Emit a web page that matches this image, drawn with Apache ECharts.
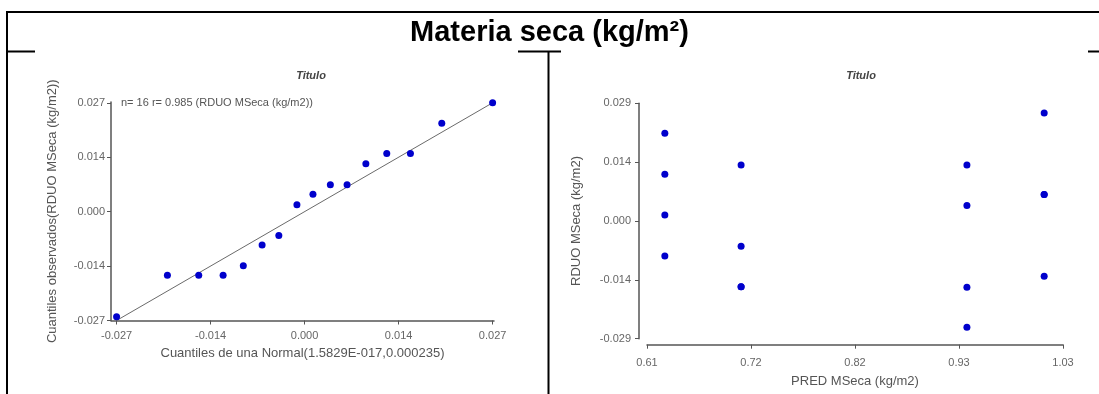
<!DOCTYPE html>
<html>
<head>
<meta charset="utf-8">
<script src="https://cdn.jsdelivr.net/npm/echarts@6/dist/echarts.min.js"></script>
<style>
  html, body { margin: 0; padding: 0; background: #fff; }
  #chart { width: 1099px; height: 394px; }
</style>
</head>
<body>
<div id="chart"></div>
<script>
// Q-Q plot of residuals: normal quantiles vs. observed residual quantiles
const qqTheoretical = [-0.0270, -0.0197, -0.0152, -0.0117, -0.0088, -0.0061, -0.0037, -0.0011,
                        0.0012, 0.0037, 0.0061, 0.0088, 0.0118, 0.0152, 0.0197, 0.0270];
const qqObserved = [-0.0261, -0.0158, -0.0158, -0.0158, -0.0134, -0.0083, -0.0059, 0.0017,
                     0.0043, 0.0067, 0.0067, 0.0119, 0.0144, 0.0144, 0.0219, 0.0270];
const qqRefLine = [[-0.027, -0.027], [0.027, 0.027]];
const qqCorrelation = '0.985';

// Residuals vs. predicted values
const predMSeca = [0.628, 0.628, 0.628, 0.628, 0.705, 0.705, 0.705, 0.705,
                   0.933, 0.933, 0.933, 0.933, 1.011, 1.011, 1.011, 1.011];
const rduoMSeca = [0.0216, 0.0115, 0.0015, -0.0086, 0.0138, -0.0062, -0.0162, -0.0162,
                   0.0138, 0.0038, -0.0163, -0.0262, 0.0266, 0.0065, 0.0065, -0.0136];

// Tick values and their printed labels
const qqTickValues = [-0.027, -0.0135, 0, 0.0135, 0.027];
const qqTickLabels = ['-0.027', '-0.014', '0.000', '0.014', '0.027'];
const resYTickValues = [-0.029, -0.0145, 0, 0.0145, 0.029];
const resYTickLabels = ['-0.029', '-0.014', '0.000', '0.014', '0.029'];
const predTickValues = [0.61, 0.715, 0.82, 0.925, 1.03];
const predTickLabels = ['0.61', '0.72', '0.82', '0.93', '1.03'];

const FONT = '"Liberation Sans", Arial, sans-serif';
const AXIS_COLOR = '#555';
const LABEL_COLOR = '#666';
const POINT_COLOR = '#0000cc';

function labelFor(values, labels) {
  return function (v) {
    const i = values.findIndex(t => Math.abs(t - v) < 1e-9);
    return i >= 0 ? labels[i] : '';
  };
}

function valueAxis(opts) {
  return Object.assign({
    type: 'value',
    scale: true,
    splitLine: { show: false },
    axisLine: { show: true, onZero: false, lineStyle: { color: AXIS_COLOR, width: 1.5 } },
    axisTick: { show: true, length: 4, lineStyle: { color: AXIS_COLOR, width: 1 },
                customValues: opts.ticks },
    axisLabel: { fontSize: 11, color: LABEL_COLOR, fontFamily: FONT, margin: opts.margin,
                 customValues: opts.ticks, formatter: labelFor(opts.ticks, opts.labels) },
    nameLocation: 'middle',
    nameTextStyle: { fontSize: 13, color: AXIS_COLOR, fontFamily: FONT }
  }, opts.extra);
}

const qqPairs = qqTheoretical.map((x, i) => [x, qqObserved[i]]);
const resPairs = predMSeca.map((x, i) => [x, rduoMSeca[i]]);

const chart = echarts.init(document.getElementById('chart'), null, { renderer: 'canvas' });

const frame = { stroke: '#000', lineWidth: 2 };
const pointStyle = { color: POINT_COLOR, opacity: 1 };

chart.setOption({
  animation: false,
  backgroundColor: '#fff',
  textStyle: { fontFamily: FONT },
  title: [
    { text: 'Materia seca (kg/m²)', left: 'center', top: 13,
      textStyle: { fontSize: 29, fontWeight: 'bold', color: '#000', fontFamily: FONT } },
    { text: 'Titulo', left: 306, top: 65, textAlign: 'center',
      textStyle: { fontSize: 11, fontWeight: 'bold', fontStyle: 'italic', color: '#444', fontFamily: FONT } },
    { text: 'Titulo', left: 856, top: 65, textAlign: 'center',
      textStyle: { fontSize: 11, fontWeight: 'bold', fontStyle: 'italic', color: '#444', fontFamily: FONT } }
  ],
  grid: [
    { left: 111, top: 102, width: 383, height: 218.5 },
    { left: 647, top: 103.3, width: 416, height: 235.4 }
  ],
  xAxis: [
    valueAxis({ ticks: qqTickValues, labels: qqTickLabels, margin: 10, extra: {
      gridIndex: 0, min: -0.0278, max: 0.0272,
      name: 'Cuantiles de una Normal(1.5829E-017,0.000235)', nameGap: 26 } }),
    valueAxis({ ticks: predTickValues, labels: predTickLabels, margin: 13, extra: {
      gridIndex: 1, min: 0.61, max: 1.03, offset: 6,
      name: 'PRED MSeca (kg/m2)', nameGap: 30 } })
  ],
  yAxis: [
    valueAxis({ ticks: qqTickValues, labels: qqTickLabels, margin: 6, extra: {
      gridIndex: 0, min: -0.027, max: 0.0272,
      name: 'Cuantiles observados(RDUO MSeca (kg/m2))', nameGap: 52 } }),
    valueAxis({ ticks: resYTickValues, labels: resYTickLabels, margin: 8, extra: {
      gridIndex: 1, min: -0.029, max: 0.029, offset: 8,
      name: 'RDUO MSeca (kg/m2)', nameGap: 56 } })
  ],
  series: [
    { type: 'line', xAxisIndex: 0, yAxisIndex: 0, data: qqRefLine, symbol: 'none',
      lineStyle: { color: '#6a6a6a', width: 1 }, silent: true, z: 2 },
    { type: 'scatter', xAxisIndex: 0, yAxisIndex: 0, data: qqPairs, symbol: 'circle',
      symbolSize: 7, itemStyle: pointStyle, z: 3 },
    { type: 'scatter', xAxisIndex: 1, yAxisIndex: 1, data: resPairs, symbol: 'circle',
      symbolSize: 7, itemStyle: pointStyle, z: 3 }
  ],
  graphic: [
    // panel frame
    { type: 'line', shape: { x1: 7, y1: 12, x2: 1099, y2: 12 }, style: frame },
    { type: 'line', shape: { x1: 7, y1: 11, x2: 7, y2: 394 }, style: frame },
    { type: 'line', shape: { x1: 7, y1: 51.5, x2: 35, y2: 51.5 }, style: frame },
    { type: 'line', shape: { x1: 518, y1: 51.5, x2: 561, y2: 51.5 }, style: frame },
    { type: 'line', shape: { x1: 548.5, y1: 51.5, x2: 548.5, y2: 394 }, style: frame },
    { type: 'line', shape: { x1: 1088, y1: 51.5, x2: 1099, y2: 51.5 }, style: frame },
    // fit note beside the top tick of the Q-Q plot
    { type: 'text', x: 121, y: 103,
      style: { text: 'n= ' + qqObserved.length + ' r= ' + qqCorrelation + ' (RDUO MSeca (kg/m2))',
               fontSize: 11, fill: '#555', fontFamily: FONT, verticalAlign: 'middle' } }
  ]
});
</script>
</body>
</html>
